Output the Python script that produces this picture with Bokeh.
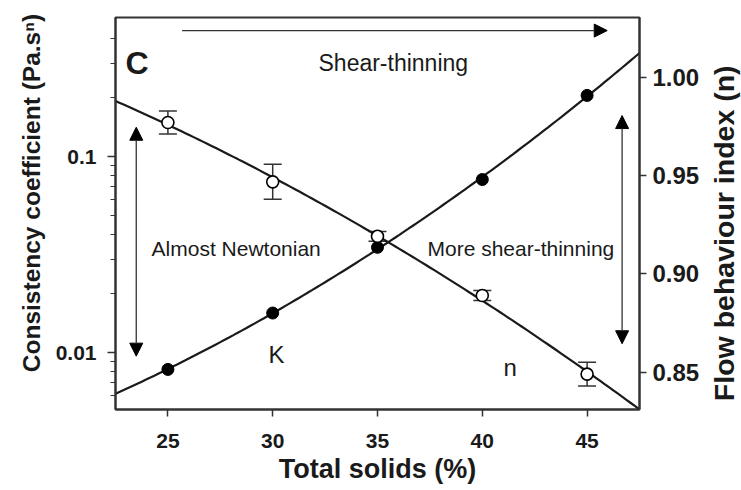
import numpy as np
from bokeh.plotting import figure
from bokeh.layouts import row
from bokeh.models import (Range1d, LinearScale, LinearAxis, FixedTicker, Whisker, TeeHead,
                          ColumnDataSource, Arrow, NormalHead, Label, PrintfTickFormatter,
                          CustomJSTickFormatter)
from bokeh.embed import file_html
from bokeh.resources import INLINE

# ---------------- data ----------------
total_solids = [25, 30, 35, 40, 45]
K_values = [0.0082, 0.0159, 0.0344, 0.0763, 0.205]      # consistency coefficient (Pa.s^n)
n_values = [0.977, 0.9468, 0.9191, 0.889, 0.849]        # flow behaviour index
n_errors = [0.0059, 0.0089, 0.0025, 0.0025, 0.006]

x_ticks = [25, 30, 35, 40, 45]
K_ticks = [0.01, 0.1]
K_minor_ticks = [0.006, 0.007, 0.008, 0.009,
                 0.02, 0.03, 0.04, 0.05, 0.06, 0.07, 0.08, 0.09,
                 0.2, 0.3, 0.4]
n_ticks = [0.85, 0.90, 0.95, 1.00]

X_RANGE = (22.5, 47.5)
K_RANGE = (0.00512, 0.512)
N_RANGE = (0.831, 1.0304)

FONT = "Liberation Sans"
INK = "#1a1a1a"

BORDER_TOP = 17
BORDER_BOTTOM = 81

p = figure(width=703, height=490, frame_width=524, frame_height=392,
           x_range=Range1d(*X_RANGE), y_range=Range1d(*K_RANGE),
           y_axis_type="log", output_backend="svg", toolbar_location=None,
           min_border_left=115, min_border_right=64,
           min_border_top=BORDER_TOP, min_border_bottom=BORDER_BOTTOM,
           background_fill_color="white", border_fill_color="white",
           outline_line_color="#333333", outline_line_width=2)
p.extra_y_ranges = {"n": Range1d(*N_RANGE)}
p.extra_y_scales = {"n": LinearScale()}
p.xgrid.visible = False
p.ygrid.visible = False


def style_axis(ax, tick_size, tick_out, label_standoff, title_size, title_standoff):
    ax.axis_line_color = "#333333"
    ax.axis_line_width = 2
    ax.major_tick_line_color = "#333333"
    ax.major_tick_line_width = 1.5
    ax.minor_tick_line_color = "#333333"
    ax.minor_tick_line_width = 1.2
    ax.major_tick_in = 0
    ax.major_tick_out = tick_out
    ax.minor_tick_in = 0
    ax.minor_tick_out = 5
    ax.major_label_text_font = FONT
    ax.major_label_text_font_style = "bold"
    ax.major_label_text_font_size = f"{tick_size}px"
    ax.major_label_text_color = INK
    ax.major_label_standoff = label_standoff
    ax.axis_label_text_font = FONT
    ax.axis_label_text_font_style = "bold"
    ax.axis_label_text_font_size = f"{title_size}px"
    ax.axis_label_text_color = INK
    ax.axis_label_standoff = title_standoff


xax = p.xaxis[0]
xax.ticker = FixedTicker(ticks=x_ticks, minor_ticks=[])
xax.axis_label = "Total solids (%)"
style_axis(xax, 21, 7, 17, 27, 3)

yax = p.yaxis[0]
yax.ticker = FixedTicker(ticks=K_ticks, minor_ticks=K_minor_ticks)
yax.formatter = CustomJSTickFormatter(code="return String(tick)")
# leading no-break spaces push the centred title upwards, as in the original
yax.axis_label = "\u00a0" * 6 + "Consistency coefficient (Pa.s\u207f)"
style_axis(yax, 21, 8, 11, 24.5, 8)

rax = LinearAxis(y_range_name="n",
                 ticker=FixedTicker(ticks=n_ticks, minor_ticks=[]),
                 formatter=PrintfTickFormatter(format="%.2f"))
style_axis(rax, 24, 7, 6, 26, 8)
p.add_layout(rax, "right")

# ---------------- fitted curves ----------------
xs = np.linspace(X_RANGE[0], X_RANGE[1], 121)
cK = np.polyfit(total_solids, np.log10(K_values), 2)
p.line(xs, 10 ** np.polyval(cK, xs), line_width=2.2, line_color=INK)
cn = np.polyfit(total_solids, n_values, 2)
p.line(xs, np.polyval(cn, xs), y_range_name="n", line_width=2.2, line_color=INK)

# ---------------- error bars ----------------
err_src = ColumnDataSource(dict(
    x=total_solids,
    upper=[v + e for v, e in zip(n_values, n_errors)],
    lower=[v - e for v, e in zip(n_values, n_errors)],
))
wh = Whisker(source=err_src, base="x", upper="upper", lower="lower", y_range_name="n",
             line_color="#333333", line_width=1.5, level="underlay",
             upper_head=TeeHead(size=18, line_color="#333333", line_width=1.5),
             lower_head=TeeHead(size=18, line_color="#333333", line_width=1.5))
p.add_layout(wh)

# ---------------- points ----------------
p.scatter(total_solids, K_values, size=12, fill_color="black", line_color="black")
p.scatter(total_solids, n_values, y_range_name="n", size=12,
          fill_color="white", line_color="black", line_width=1.6)

# ---------------- annotations ----------------
def head():
    return NormalHead(size=13, fill_color="black", line_color="black", line_width=1)

p.add_layout(Arrow(x_start=25.68, y_start=1.02375, x_end=45.96, y_end=1.02375,
                   y_range_name="n", start=None, end=head(),
                   line_color="#333333", line_width=1.3))
p.add_layout(Arrow(x_start=23.49, y_start=0.85813, x_end=23.49, y_end=0.97458,
                   y_range_name="n", start=head(), end=head(),
                   line_color="#333333", line_width=1.3))
p.add_layout(Arrow(x_start=46.67, y_start=0.86444, x_end=46.67, y_end=0.98052,
                   y_range_name="n", start=head(), end=head(),
                   line_color="#333333", line_width=1.3))


def add_label(text, x, y, size, bold=False):
    p.add_layout(Label(x=x, y=y, y_range_name="n", text=text,
                       text_font=FONT, text_font_size=f"{size}px",
                       text_font_style="bold" if bold else "normal",
                       text_color=INK, text_align="left", text_baseline="alphabetic"))


add_label("C", 22.98, 1.00722, 32, bold=True)
add_label("Shear-thinning", 32.185, 1.00747, 23)
add_label("Almost Newtonian", 24.22, 0.9129, 21)
add_label("More shear-thinning", 37.385, 0.9129, 21)
add_label("K", 29.8, 0.8590, 24)
add_label("n", 41.01, 0.85238, 24)

# ---------------- right-hand axis title (reads bottom to top) ----------------
# a narrow companion figure whose bare left axis carries only the title;
# same top/bottom borders as the main figure so the row keeps both frames aligned
side = figure(width=38, height=490, x_range=Range1d(0, 1), y_range=Range1d(0, 1),
              x_axis_location=None, y_axis_location="left",
              min_border_left=36, min_border_right=0,
              min_border_top=BORDER_TOP, min_border_bottom=BORDER_BOTTOM,
              output_backend="svg", toolbar_location=None,
              background_fill_color="white", border_fill_color="white",
              outline_line_color=None)
side.grid.visible = False
sax = side.yaxis[0]
sax.ticker = FixedTicker(ticks=[], minor_ticks=[])
sax.axis_line_color = None
sax.major_tick_line_color = None
sax.minor_tick_line_color = None
sax.major_tick_in = 0
sax.major_tick_out = 0
sax.minor_tick_in = 0
sax.minor_tick_out = 0
sax.major_label_standoff = 0
# trailing no-break spaces move the centred title down, as in the original
sax.axis_label = "Flow behaviour index (n)" + "\u00a0" * 5
sax.axis_label_standoff = 0
sax.axis_label_text_font = FONT
sax.axis_label_text_font_style = "bold"
sax.axis_label_text_font_size = "28.5px"
sax.axis_label_text_color = INK

layout = row(p, side, spacing=0)
open("out.html", "w").write(file_html(layout, INLINE))
